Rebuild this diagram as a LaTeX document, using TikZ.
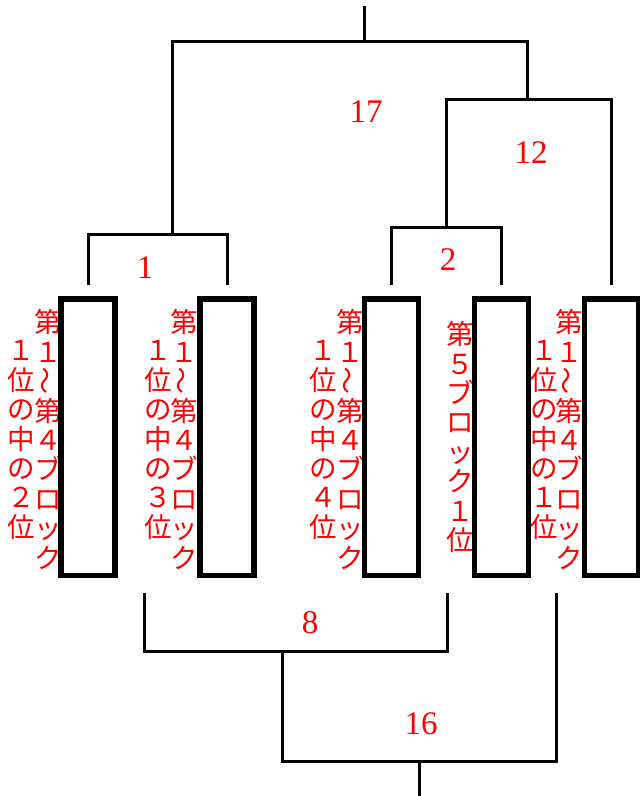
\documentclass[tikz,border=0pt]{standalone}
\usepackage{fontspec}
\newfontfamily\cjk{Noto Sans CJK JP}
\newfontfamily\numfont{Liberation Serif}
\usetikzlibrary{positioning}
\tikzset{
  blk/.style={draw, line width=5.5pt, minimum width=54pt, minimum height=276.5pt, inner sep=0pt},
  link/.style={line width=3pt},
  num/.style={text=red, font=\numfont\fontsize{33}{33}\selectfont, inner sep=0pt},
  vcol/.style={text=red, font=\cjk\fontsize{27.5}{29.4}\selectfont, align=center, inner sep=0pt}, % 縦書きの列
}
\newcommand{\vwave}{\raisebox{-3pt}{\rotatebox{90}{～}}}

\begin{document}
\begin{tikzpicture}[x=1pt, y=-1pt]
        \useasboundingbox (0,0) rectangle (640,796);
        \node[vcol](t1r) at (48,439.5){第\\１\\\vwave\\第\\４\\ブ\\ロ\\ッ\\ク};
        \node[vcol](t1l) at (21.5,440){１\\位\\の\\中\\の\\２\\位};
        \node[vcol](t2r) at (184,439.5){第\\１\\\vwave\\第\\４\\ブ\\ロ\\ッ\\ク};
        \node[vcol](t2l) at (158,440){１\\位\\の\\中\\の\\３\\位};
        \node[vcol](t3r) at (350.5,439.5){第\\１\\\vwave\\第\\４\\ブ\\ロ\\ッ\\ク};
        \node[vcol](t3l) at (323.5,440){１\\位\\の\\中\\の\\４\\位};
        \node[vcol](t4) at (460,437){第\\５\\ブ\\ロ\\ッ\\ク\\１\\位};
        \node[vcol](t5r) at (569,439.5){第\\１\\\vwave\\第\\４\\ブ\\ロ\\ッ\\ク};
        \node[vcol](t5l) at (544,440){１\\位\\の\\中\\の\\１\\位};
        \node[blk](b1) at (88,437.25){};
        \node[blk](b2) at (227,437.25){};
        \node[blk](b3) at (391.5,437.25){};
        \node[blk](b4) at (501.5,437.25){};
        \node[blk](b5) at (611.5,437.25){};
        \coordinate (j1) at (172,234); \coordinate (j2) at (446,227);
        \coordinate (j12) at (527,99); \coordinate (j17) at (364,41);
        \coordinate (root) at (364,6);
        \draw[link]([yshift=11pt]b1.north) |- (j1) -| ([yshift=11pt]b2.north);
        \draw[link]([yshift=11pt]b3.north) |- (j2) -| ([yshift=11pt]b4.north);
        \draw[link](j2) |- (j12) -| ([yshift=11pt]b5.north);
        \draw[link](j1) |- (j17) -| (j12); \draw[link](j17)--(root);
        \coordinate (p2) at (144,593); \coordinate (p4) at (447,593);
        \coordinate (p5) at (556,593); \coordinate (k8) at (282,651);
        \coordinate (k16) at (419,761); \coordinate (sink) at (419,796);
        \draw[link](p2) |- (k8) -| (p4);
        \draw[link](k8) |- (k16) -| (p5); \draw[link](k16)--(sink);
        \node[num](n17) at (366,112){17};
        \node[num](n12) at (531,153){12};
        \node[num](n2) at (448,260){2};
        \node[num](n1) at (145,268){1};
        \node[num](n8) at (310,623){8};
        \node[num](n16) at (421,724){16};
      \end{tikzpicture}
\end{document}
